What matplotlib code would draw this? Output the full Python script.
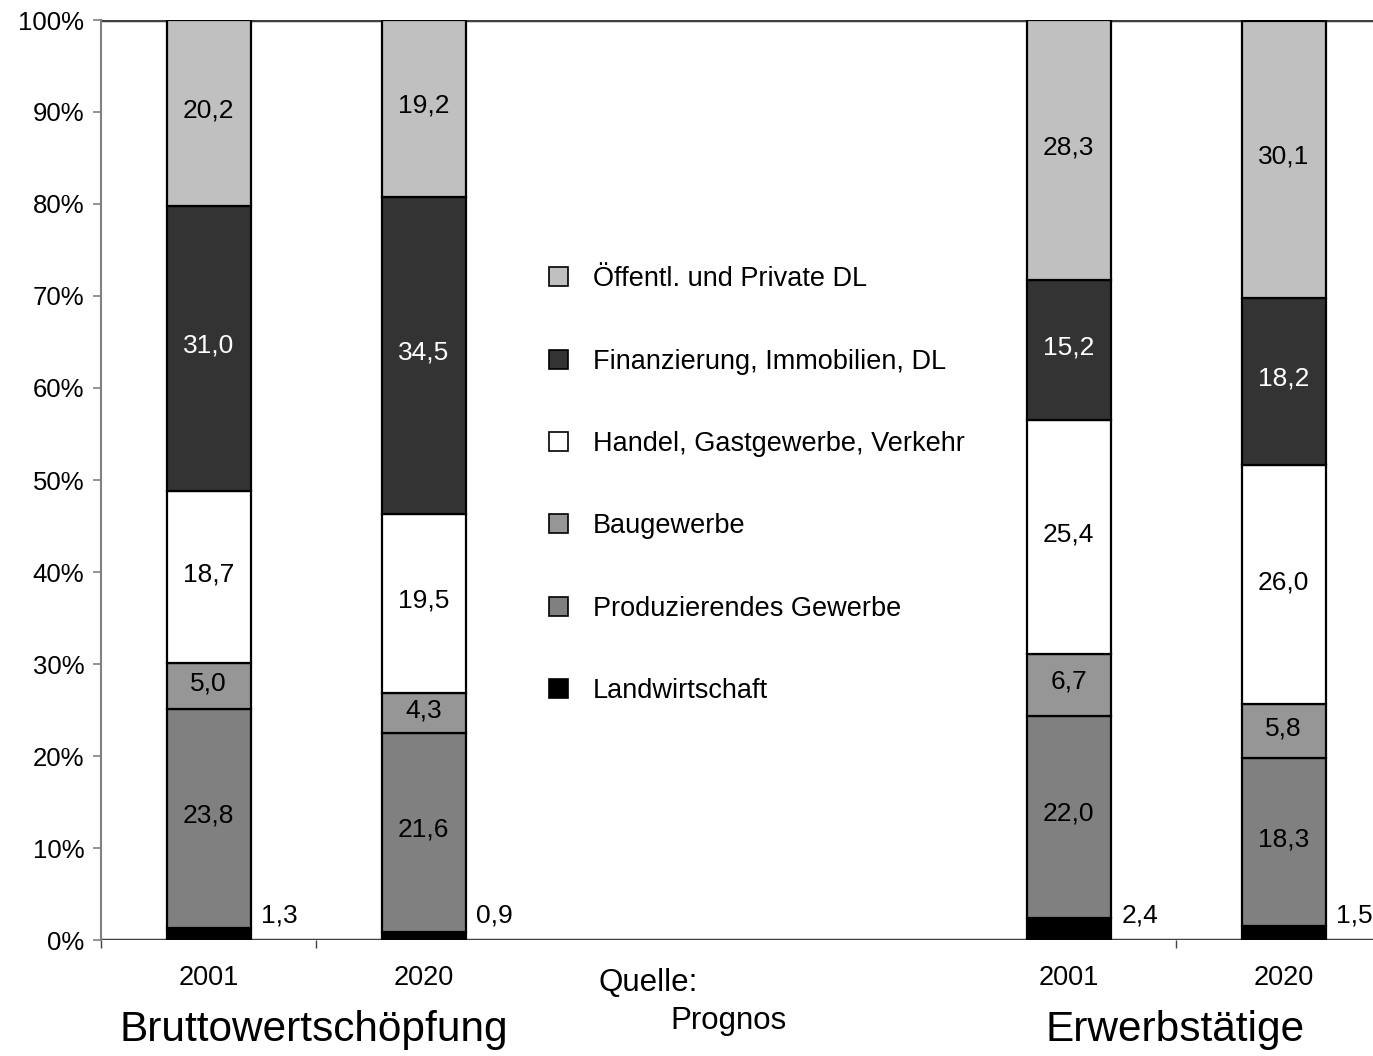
import matplotlib
matplotlib.use("Agg")
import matplotlib.pyplot as plt
from matplotlib.patches import Patch
import numpy as np

plt.rcParams['font.family'] = ['Liberation Sans', 'DejaVu Sans']

positions = [0, 1, 4, 5]
years = ["2001", "2020", "2001", "2020"]
series_names = ["Landwirtschaft", "Produzierendes Gewerbe", "Baugewerbe",
                "Handel, Gastgewerbe, Verkehr", "Finanzierung, Immobilien, DL",
                "Öffentl. und Private DL"]
landwirtschaft = [1.3, 0.9, 2.4, 1.5]
produzierendes = [23.8, 21.6, 22.0, 18.3]
baugewerbe = [5.0, 4.3, 6.7, 5.8]
handel = [18.7, 19.5, 25.4, 26.0]
finanzierung = [31.0, 34.5, 15.2, 18.2]
oeffentlich = [20.2, 19.2, 28.3, 30.1]
colors = ["#000000", "#808080", "#969696", "#FFFFFF", "#333333", "#C0C0C0"]
label_colors = ["black", "black", "black", "black", "white", "black"]

series = [landwirtschaft, produzierendes, baugewerbe, handel, finanzierung, oeffentlich]

W, H = 1373, 1056
fig = plt.figure(figsize=(W / 100, H / 100), dpi=100)
unit = 215
ax = fig.add_axes([101 / W, (H - 940) / H, 6 * unit / W, 920 / H])
ax.set_xlim(-0.5, 5.5)
ax.set_ylim(0, 100)

bw = 84 / unit
bottom = np.zeros(4)
handles = []
for k, (vals, c, lc) in enumerate(zip(series, colors, label_colors)):
    vals = np.array(vals)
    ax.bar(positions, vals, bw, bottom=bottom, color=c, edgecolor="black",
           linewidth=1.6, zorder=3)
    for p, v, b in zip(positions, vals, bottom):
        txt = f"{v:.1f}".replace(".", ",")
        if k == 0:
            ax.text(p + bw / 2 + 0.05, 2.7, txt, ha="left", va="center",
                    fontsize=19, color="black", zorder=4)
        else:
            ax.text(p, b + v / 2 + 0.3, txt, ha="center", va="center",
                    fontsize=19, color=lc, zorder=4)
    bottom = bottom + vals
    handles.append(Patch(facecolor=c, edgecolor="black", linewidth=1.2,
                         label=series_names[k]))

# frame lines
ax.axhline(0, color="#404040", lw=2.5, zorder=2)
ax.axhline(100, color="#404040", lw=2.5, zorder=2)
for s in ["top", "right", "bottom"]:
    ax.spines[s].set_visible(False)
ax.spines["left"].set_color("#808080")
ax.spines["left"].set_linewidth(1.5)

ax.set_yticks(np.arange(0, 101, 10))
ax.set_yticklabels([f"{v}%" for v in range(0, 101, 10)], fontsize=18.5)
ax.tick_params(axis="y", length=6, color="#808080", width=1.2, pad=6)
ax.set_xticks([-0.5, 0.5, 4.5])
ax.set_xticklabels([])
ax.tick_params(axis="x", length=6, color="#404040", width=1.0)

for p, y in zip(positions, years):
    ax.text(p, -4.1, y, ha="center", va="center", fontsize=19.5)

fig.text(314 / W, 1 - 1030 / H, "Bruttowertschöpfung", ha="center", va="center", fontsize=30.5)
fig.text(1175 / W, 1 - 1030 / H, "Erwerbstätige", ha="center", va="center", fontsize=30.5)
fig.text(598 / W, 1 - 983 / H, "Quelle:", ha="left", va="center", fontsize=22.5)
fig.text(670 / W, 1 - 1021 / H, "Prognos", ha="left", va="center", fontsize=22.5)

leg = ax.legend(handles=handles[::-1], loc="upper left",
                bbox_to_anchor=(525 / W, 1 - 242 / H), bbox_transform=fig.transFigure,
                frameon=False, fontsize=19.5, handlelength=0.7, handleheight=0.7,
                handletextpad=0.9, labelspacing=2.08)

fig.savefig("out.png", dpi=100)
